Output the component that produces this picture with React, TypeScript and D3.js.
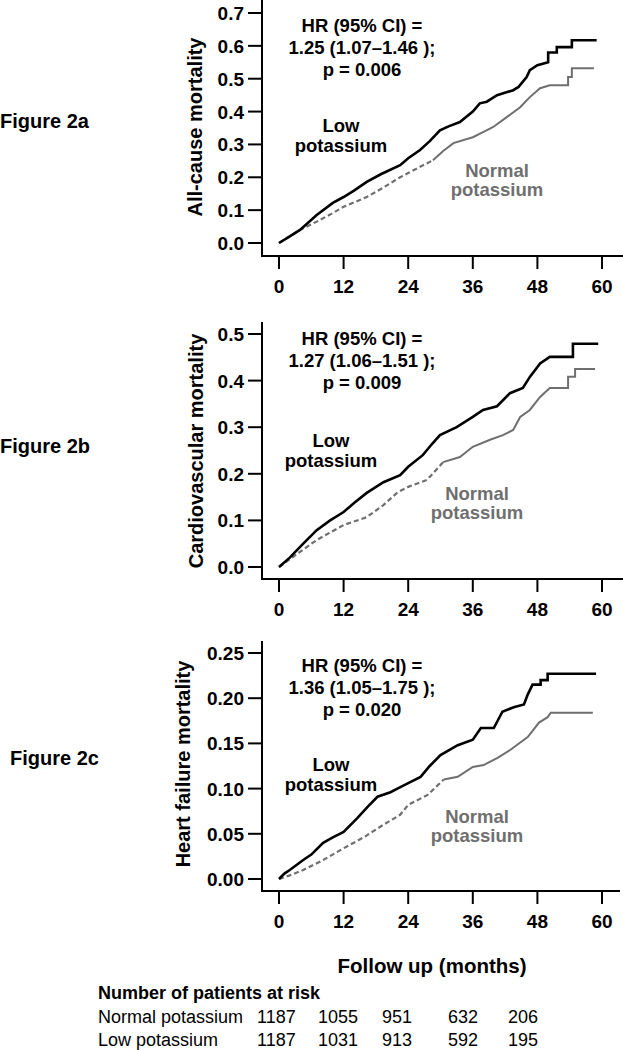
import React from "react";
import * as d3 from "d3";

type Pt = [number, number];

const MONTH_TICKS = [0, 12, 24, 36, 48, 60];
const RISK_MONTHS = [0, 12, 24, 36, 48];
const AT_RISK_NORMAL = [1187, 1055, 951, 632, 206];
const AT_RISK_LOW = [1187, 1031, 913, 592, 195];

const Y_TICKS_ALL = [0, 0.1, 0.2, 0.3, 0.4, 0.5, 0.6, 0.7];
const Y_TICKS_CV = [0, 0.1, 0.2, 0.3, 0.4, 0.5];
const Y_TICKS_HF = [0, 0.05, 0.1, 0.15, 0.2, 0.25];

const LOW_ALL: Pt[] = [[0,0],[2,0.02],[3.9,0.04],[7,0.085],[10,0.122],[12,0.14],[14,0.16],[16.3,0.186],[19,0.21],[22.5,0.237],[24,0.258],[26.2,0.283],[28,0.31],[29.9,0.343],[31.5,0.355],[33.6,0.368],[36,0.4],[37.3,0.425],[38.6,0.43],[40.5,0.45],[43.5,0.465],[44.5,0.475],[46,0.505],[46.6,0.526],[48,0.541],[50,0.55],[50,0.58],[51.6,0.58],[51.6,0.596],[54.4,0.596],[54.4,0.617],[59,0.617]];
const NORMAL_ALL: Pt[] = [[0,0],[3.9,0.04],[7,0.065],[10,0.091],[12,0.11],[16.3,0.14],[19,0.165],[22.5,0.2],[24,0.213],[26,0.23],[28.6,0.252],[30.5,0.28],[32.4,0.304],[36,0.322],[38,0.338],[39.8,0.353],[42.3,0.383],[44.8,0.413],[46.6,0.444],[48.5,0.471],[50.3,0.48],[53.7,0.48],[53.7,0.505],[54.4,0.505],[54.4,0.532],[58.5,0.532]];

const LOW_CV: Pt[] = [[0,0],[2,0.02],[4.5,0.05],[7,0.079],[9.5,0.1],[12,0.118],[14,0.138],[16.3,0.159],[19.4,0.182],[22.5,0.197],[24,0.215],[26.7,0.24],[28.5,0.265],[29.9,0.283],[33,0.3],[36,0.322],[37.9,0.337],[40.5,0.345],[42.9,0.373],[45.3,0.384],[46.6,0.408],[48.5,0.437],[50.3,0.451],[54.6,0.451],[54.6,0.479],[59.3,0.479]];
const NORMAL_CV: Pt[] = [[0,0],[3,0.025],[7,0.058],[12,0.09],[16.3,0.107],[19.4,0.133],[22,0.16],[24,0.172],[27.5,0.187],[30.5,0.225],[33.6,0.236],[36,0.258],[39.2,0.273],[41.6,0.283],[43.5,0.294],[44.8,0.322],[46.6,0.337],[48.5,0.365],[50.3,0.384],[53.7,0.384],[53.7,0.408],[55,0.408],[55,0.425],[58.7,0.425]];

const LOW_HF: Pt[] = [[0,0],[1,0.006],[2,0.01],[4.5,0.021],[6,0.027],[8.2,0.04],[10,0.046],[12,0.052],[14.5,0.067],[16.5,0.08],[18.3,0.091],[20.7,0.096],[22,0.1],[24,0.106],[26.3,0.113],[28,0.125],[30,0.137],[33.2,0.148],[36,0.154],[37.5,0.167],[39.9,0.167],[41.5,0.185],[43.6,0.19],[45.5,0.193],[46.2,0.204],[47.1,0.215],[48.6,0.215],[48.6,0.22],[49.9,0.22],[49.9,0.227],[58.9,0.227]];
const NORMAL_HF: Pt[] = [[0,0],[2,0.004],[4.5,0.01],[8.2,0.021],[12,0.034],[15.7,0.046],[19.4,0.06],[22.5,0.071],[24,0.082],[27.6,0.093],[30.6,0.11],[33.2,0.113],[36,0.124],[38,0.126],[40.6,0.134],[43,0.143],[46.2,0.157],[48.3,0.173],[49.9,0.179],[50.5,0.184],[58.3,0.184]];

const FONT = "'Liberation Sans', Arial, Helvetica, sans-serif";
const GRAY = "#6f6f6f";

interface PanelCfg {
  fig: string; figX: number; figY: number;
  yLabel: string; yLabelX: number; yLabelY: number;
  yMax: number; yTicks: number[]; fmt: string;
  yTop: number; y0: number; yMaxPx: number; xAxisY: number; xRight: number;
  hr: string[]; hrY: number;
  lowY: number; lowX: number; normY: number; normX: number;
  low: Pt[]; normal: Pt[]; split: number;
}

const PANELS: PanelCfg[] = [
  { fig: "Figure 2a", figX: 0, figY: 128, yLabel: "All-cause mortality", yLabelX: 202, yLabelY: 127,
    yMax: 0.7, yTicks: Y_TICKS_ALL, fmt: ".1f", yTop: 0, y0: 243, yMaxPx: 13, xAxisY: 256, xRight: 623,
    hr: ["HR (95% CI) =", "1.25 (1.07\u20131.46 );", "p = 0.006"], hrY: 32,
    lowX: 341, lowY: 132, normX: 497, normY: 177, low: LOW_ALL, normal: NORMAL_ALL, split: 28.6 },
  { fig: "Figure 2b", figX: 0, figY: 453, yLabel: "Cardiovascular mortality", yLabelX: 203, yLabelY: 451,
    yMax: 0.5, yTicks: Y_TICKS_CV, fmt: ".1f", yTop: 322, y0: 567, yMaxPx: 334, xAxisY: 579, xRight: 623,
    hr: ["HR (95% CI) =", "1.27 (1.06\u20131.51 );", "p = 0.009"], hrY: 345,
    lowX: 331, lowY: 447, normX: 477, normY: 500, low: LOW_CV, normal: NORMAL_CV, split: 30.5 },
  { fig: "Figure 2c", figX: 10, figY: 765, yLabel: "Heart failure mortality", yLabelX: 190, yLabelY: 764,
    yMax: 0.25, yTicks: Y_TICKS_HF, fmt: ".2f", yTop: 641, y0: 879, yMaxPx: 653, xAxisY: 891, xRight: 620,
    hr: ["HR (95% CI) =", "1.36 (1.05\u20131.75 );", "p = 0.020"], hrY: 672,
    lowX: 331, lowY: 771, normX: 477, normY: 823, low: LOW_HF, normal: NORMAL_HF, split: 30.6 },
];

const AXIS_X = 262;

function Panel({ p }: { p: PanelCfg }) {
  const x = d3.scaleLinear().domain([0, 60]).range([279, 602]);
  const y = d3.scaleLinear().domain([0, p.yMax]).range([p.y0, p.yMaxPx]);
  const line = d3.line<Pt>().x((d) => x(d[0])).y((d) => y(d[1])).curve(d3.curveLinear);
  const fmt = d3.format(p.fmt);
  const early = p.normal.filter((d) => d[0] <= p.split);
  const late = p.normal.filter((d) => d[0] >= p.split);
  return (
    <g>
      <text x={p.figX} y={p.figY} fontSize={20} fontWeight="bold" fontFamily={FONT}>{p.fig}</text>
      <text transform={`translate(${p.yLabelX},${p.yLabelY}) rotate(-90)`} textAnchor="middle"
        fontSize={20} fontWeight="bold" fontFamily={FONT}>{p.yLabel}</text>
      <path d={`M${AXIS_X},${p.yTop}V${p.xAxisY}H${p.xRight}`} fill="none" stroke="#000" strokeWidth={2} />
      {p.yTicks.map((t) => (
        <g key={t}>
          <line x1={AXIS_X - 14} x2={AXIS_X} y1={y(t)} y2={y(t)} stroke="#000" strokeWidth={2} />
          <text x={AXIS_X - 18} y={y(t) + 7} textAnchor="end" fontSize={19} fontWeight="bold" fontFamily={FONT}>{fmt(t)}</text>
        </g>
      ))}
      {MONTH_TICKS.map((t) => (
        <g key={t}>
          <line x1={x(t)} x2={x(t)} y1={p.xAxisY} y2={p.xAxisY + 13} stroke="#000" strokeWidth={2} />
          <text x={x(t)} y={p.xAxisY + 37} textAnchor="middle" fontSize={19} fontWeight="bold" fontFamily={FONT}>{t}</text>
        </g>
      ))}
      <path d={line(early) || ""} fill="none" stroke={GRAY} strokeWidth={2.2} strokeDasharray="5,3" />
      <path d={line(late) || ""} fill="none" stroke={GRAY} strokeWidth={2} />
      <path d={line(p.low) || ""} fill="none" stroke="#000" strokeWidth={2.6} />
      {p.hr.map((s, i) => (
        <text key={i} x={362} y={p.hrY + i * 22} textAnchor="middle" fontSize={18.5} fontWeight="bold" fontFamily={FONT}>{s}</text>
      ))}
      <text x={p.lowX} y={p.lowY} textAnchor="middle" fontSize={18.5} fontWeight="bold" fontFamily={FONT}>Low</text>
      <text x={p.lowX} y={p.lowY + 20} textAnchor="middle" fontSize={18.5} fontWeight="bold" fontFamily={FONT}>potassium</text>
      <text x={p.normX} y={p.normY} textAnchor="middle" fontSize={18.5} fontWeight="bold" fontFamily={FONT} fill={GRAY}>Normal</text>
      <text x={p.normX} y={p.normY + 19} textAnchor="middle" fontSize={18.5} fontWeight="bold" fontFamily={FONT} fill={GRAY}>potassium</text>
    </g>
  );
}

export default function App() {
  const colX = d3.scaleOrdinal<number, number>().domain(RISK_MONTHS).range([257, 318, 382, 448, 508]);
  return (
    <svg width={623} height={1050} style={{ position: "absolute", left: 0, top: 0, background: "#fff" }}>
      <rect x={0} y={0} width={623} height={1050} fill="#fff" />
      {PANELS.map((p) => <Panel key={p.fig} p={p} />)}
      <text x={432} y={973} textAnchor="middle" fontSize={20.5} fontWeight="bold" fontFamily={FONT}>Follow up (months)</text>
      <text x={98} y={999} fontSize={18} fontWeight="bold" fontFamily={FONT}>Number of patients at risk</text>
      <text x={98} y={1023} fontSize={18} fontFamily={FONT}>Normal potassium</text>
      <text x={98} y={1046} fontSize={18} fontFamily={FONT}>Low potassium</text>
      {RISK_MONTHS.map((m, i) => (
        <g key={m}>
          <text x={colX(m)} y={1023} fontSize={18} fontFamily={FONT}>{AT_RISK_NORMAL[i]}</text>
          <text x={colX(m)} y={1046} fontSize={18} fontFamily={FONT}>{AT_RISK_LOW[i]}</text>
        </g>
      ))}
    </svg>
  );
}
